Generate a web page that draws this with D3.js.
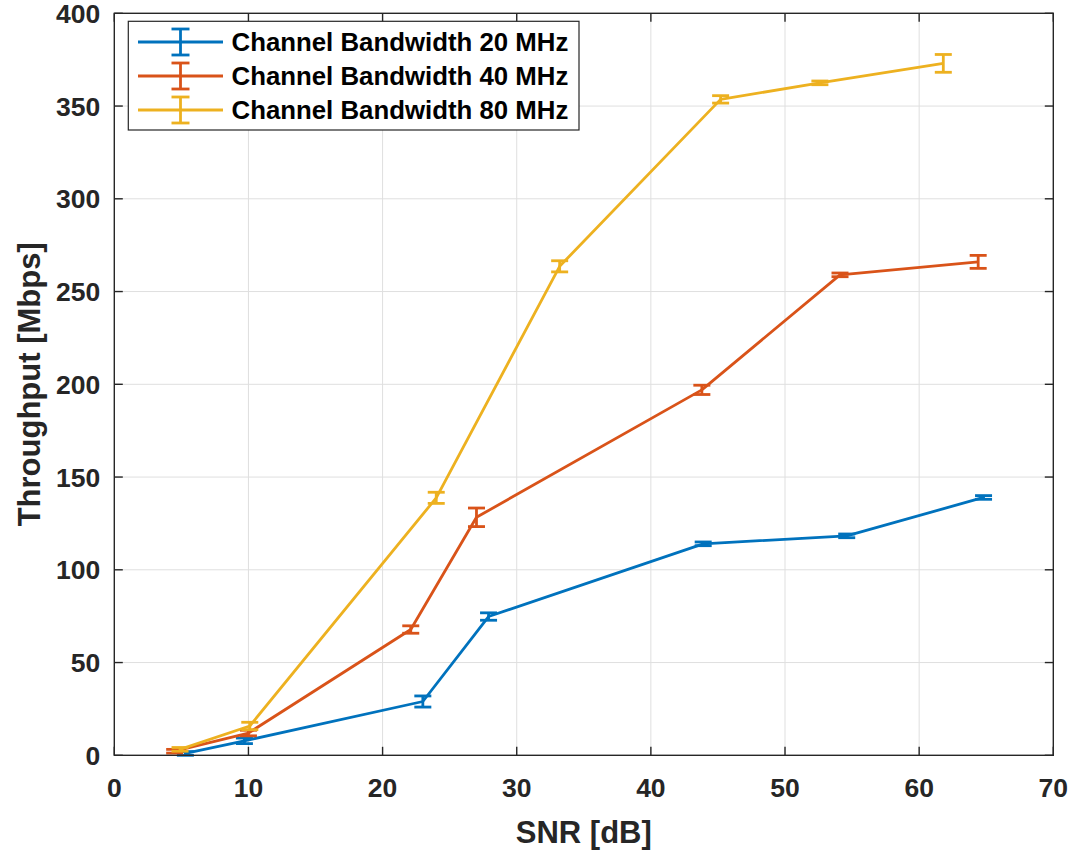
<!DOCTYPE html>
<html>
<head>
<meta charset="utf-8">
<script src="https://cdn.jsdelivr.net/npm/d3@7"></script>
<style>
  html, body { margin: 0; padding: 0; background: #fff; }
  svg text { font-family: "Liberation Sans", Arial, Helvetica, sans-serif; font-weight: bold; }
</style>
</head>
<body>
<svg id="chart" width="1077" height="852"></svg>
<script>
// Throughput vs SNR for three channel bandwidths, with error bars
const seriesNames = ["Channel Bandwidth 20 MHz", "Channel Bandwidth 40 MHz", "Channel Bandwidth 80 MHz"];
const seriesColors = ["#0072BD", "#D95319", "#EDB120"];

const snr20 = [5.3, 9.7, 23.0, 27.9, 43.9, 54.6, 64.8];
const thr20 = [1.0, 7.8, 29.0, 74.8, 114.0, 118.3, 139.0];
const err20 = [1.0, 1.5, 3.0, 2.0, 1.0, 1.0, 1.0];

const snr40 = [4.5, 10.0, 22.1, 27.0, 43.8, 54.1, 64.4];
const thr40 = [2.2, 12.0, 67.8, 128.3, 197.0, 259.0, 266.0];
const err40 = [1.0, 1.5, 2.0, 5.0, 2.5, 1.0, 3.5];

const snr80 = [4.9, 10.1, 24.0, 33.2, 45.2, 52.6, 61.8];
const thr80 = [3.2, 15.8, 138.8, 263.6, 353.6, 362.5, 373.0];
const err80 = [1.0, 2.0, 3.0, 3.0, 2.0, 1.0, 4.8];

const xTicks = [0, 10, 20, 30, 40, 50, 60, 70];
const yTicks = [0, 50, 100, 150, 200, 250, 300, 350, 400];
const xLabel = "SNR [dB]";
const yLabel = "Throughput [Mbps]";

const series = [
  { name: seriesNames[0], color: seriesColors[0], x: snr20, y: thr20, e: err20 },
  { name: seriesNames[1], color: seriesColors[1], x: snr40, y: thr40, e: err40 },
  { name: seriesNames[2], color: seriesColors[2], x: snr80, y: thr80, e: err80 }
];

const svg = d3.select("#chart");
const m = { left: 114.3, right: 1053.3, top: 13.3, bottom: 755.3 };
const x = d3.scaleLinear().domain([0, 70]).range([m.left, m.right]);
const y = d3.scaleLinear().domain([0, 400]).range([m.bottom, m.top]);
const axisColor = "#262626";
const tickLen = 8.5;
const lw = 2.8;

// grid
const grid = svg.append("g");
grid.selectAll("line.gx").data(xTicks.slice(1, -1)).join("line")
  .attr("x1", d => x(d)).attr("x2", d => x(d))
  .attr("y1", m.top).attr("y2", m.bottom)
  .attr("stroke", "#dfdfdf").attr("stroke-width", 1);
grid.selectAll("line.gy").data(yTicks.slice(1, -1)).join("line")
  .attr("y1", d => y(d)).attr("y2", d => y(d))
  .attr("x1", m.left).attr("x2", m.right)
  .attr("stroke", "#dfdfdf").attr("stroke-width", 1);

// series lines and error bars
const capHalf = 8.5;
series.forEach(s => {
  const pts = s.x.map((v, i) => ({ x: v, y: s.y[i], e: s.e[i] }));
  const g = svg.append("g");
  g.append("path").datum(pts)
    .attr("fill", "none").attr("stroke", s.color).attr("stroke-width", lw)
    .attr("stroke-linejoin", "round")
    .attr("d", d3.line().x(d => x(d.x)).y(d => y(d.y)));
  const eb = g.selectAll("g.eb").data(pts).join("g");
  eb.append("line")
    .attr("x1", d => x(d.x)).attr("x2", d => x(d.x))
    .attr("y1", d => y(d.y - d.e)).attr("y2", d => y(d.y + d.e))
    .attr("stroke", s.color).attr("stroke-width", lw);
  [-1, 1].forEach(sg => {
    eb.append("line")
      .attr("x1", d => x(d.x) - capHalf).attr("x2", d => x(d.x) + capHalf)
      .attr("y1", d => y(d.y + sg * d.e)).attr("y2", d => y(d.y + sg * d.e))
      .attr("stroke", s.color).attr("stroke-width", lw);
  });
});

// axes box with inward ticks on all four sides
const ax = svg.append("g");
ax.append("rect")
  .attr("x", m.left).attr("y", m.top)
  .attr("width", m.right - m.left).attr("height", m.bottom - m.top)
  .attr("fill", "none").attr("stroke", axisColor).attr("stroke-width", 1.4);
ax.selectAll("line.tb").data(xTicks).join("line")
  .attr("x1", d => x(d)).attr("x2", d => x(d))
  .attr("y1", m.bottom).attr("y2", m.bottom - tickLen)
  .attr("stroke", axisColor).attr("stroke-width", 1.4);
ax.selectAll("line.tt").data(xTicks).join("line")
  .attr("x1", d => x(d)).attr("x2", d => x(d))
  .attr("y1", m.top).attr("y2", m.top + tickLen)
  .attr("stroke", axisColor).attr("stroke-width", 1.4);
ax.selectAll("line.tl").data(yTicks).join("line")
  .attr("y1", d => y(d)).attr("y2", d => y(d))
  .attr("x1", m.left).attr("x2", m.left + tickLen)
  .attr("stroke", axisColor).attr("stroke-width", 1.4);
ax.selectAll("line.tr").data(yTicks).join("line")
  .attr("y1", d => y(d)).attr("y2", d => y(d))
  .attr("x1", m.right).attr("x2", m.right - tickLen)
  .attr("stroke", axisColor).attr("stroke-width", 1.4);

// tick labels
ax.selectAll("text.xt").data(xTicks).join("text")
  .attr("x", d => x(d)).attr("y", m.bottom + 42)
  .attr("text-anchor", "middle").attr("font-size", 26.5).attr("fill", axisColor)
  .text(d => d);
ax.selectAll("text.yt").data(yTicks).join("text")
  .attr("x", m.left - 14).attr("y", d => y(d) + 9.5)
  .attr("text-anchor", "end").attr("font-size", 26.5).attr("fill", axisColor)
  .text(d => d);

// axis titles
svg.append("text")
  .attr("x", (m.left + m.right) / 2).attr("y", 843)
  .attr("text-anchor", "middle").attr("font-size", 31).attr("fill", axisColor)
  .text(xLabel);
svg.append("text")
  .attr("transform", `translate(39.5, ${(m.top + m.bottom) / 2}) rotate(-90)`)
  .attr("text-anchor", "middle").attr("font-size", 31).attr("fill", axisColor)
  .text(yLabel);

// legend
const lg = svg.append("g");
lg.append("rect")
  .attr("x", 128.3).attr("y", 21.3).attr("width", 450.7).attr("height", 108.7)
  .attr("fill", "#fff").attr("stroke", axisColor).attr("stroke-width", 1.2);
series.forEach((s, i) => {
  const cy = 42 + i * 34;
  const row = lg.append("g");
  row.append("line").attr("x1", 138).attr("x2", 223).attr("y1", cy).attr("y2", cy)
    .attr("stroke", s.color).attr("stroke-width", lw);
  row.append("line").attr("x1", 180.5).attr("x2", 180.5).attr("y1", cy - 13).attr("y2", cy + 13)
    .attr("stroke", s.color).attr("stroke-width", lw);
  [-13, 13].forEach(o => {
    row.append("line").attr("x1", 171.5).attr("x2", 189.5).attr("y1", cy + o).attr("y2", cy + o)
      .attr("stroke", s.color).attr("stroke-width", lw);
  });
  row.append("text").attr("x", 231.5).attr("y", cy + 9.2)
    .attr("font-size", 25.8).attr("fill", "#000").text(s.name);
});
</script>
</body>
</html>
